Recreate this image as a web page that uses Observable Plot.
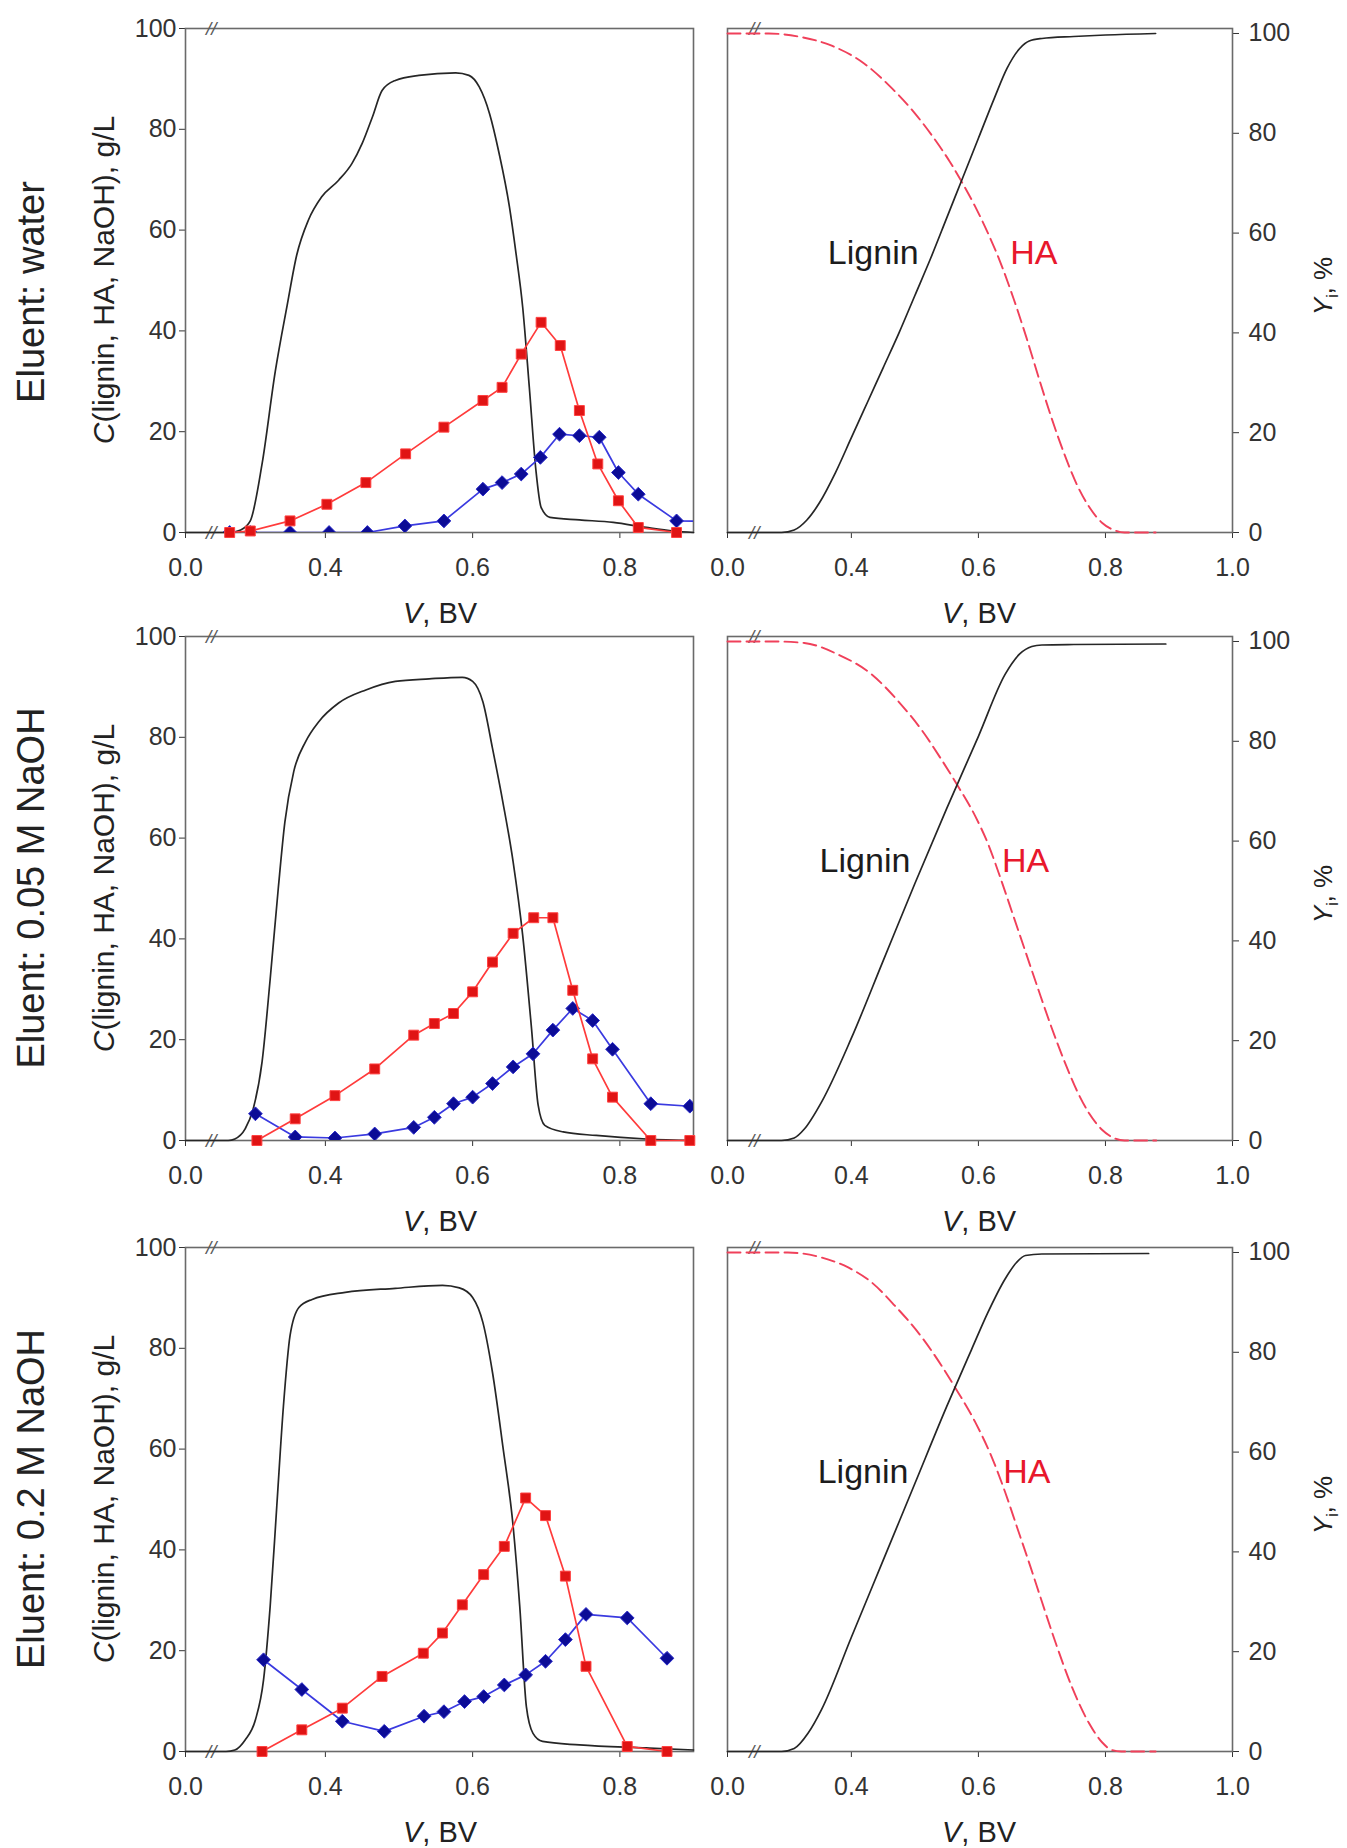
<!DOCTYPE html>
<html>
<head>
<meta charset="utf-8">
<script src="https://cdn.jsdelivr.net/npm/d3@7"></script>
<script src="https://cdn.jsdelivr.net/npm/@observablehq/plot@0.6"></script>
<style>
  body { margin: 0; background: #fff; }
  #fig { position: relative; width: 1347px; height: 1848px; background: #fff;
         font-family: 'Liberation Sans', Arial, Helvetica, sans-serif; color: #222; }
  #fig svg { position: absolute; overflow: visible; }
  .lab { position: absolute; white-space: nowrap; line-height: 1; transform: translate(-50%, -50%); }
  .rot { transform: translate(-50%, -50%) rotate(-90deg); }
</style>
</head>
<body>
<div id="fig"></div>
<script>
// ---------- Eluent conditions ----------
const eluents = ["Eluent: water", "Eluent: 0.05 M NaOH", "Eluent: 0.2 M NaOH"];

// ---------- Outlet concentrations, g/L (left column) ----------
// water
const ligninV_water = [0.21, 0.27, 0.285, 0.298, 0.314, 0.332, 0.348, 0.361, 0.377, 0.395, 0.418, 0.436, 0.45, 0.464, 0.477, 0.495, 0.527, 0.577, 0.595, 0.609, 0.623, 0.636, 0.65, 0.659, 0.668, 0.677, 0.686, 0.693, 0.705, 0.745, 0.791, 0.836, 0.873, 0.9];
const ligninC_water = [0, 0, 0.5, 2.3, 13.6, 32, 45, 55, 62, 66.6, 69.9, 73.2, 77.2, 82.5, 87.7, 89.7, 90.7, 91.2, 90.7, 88.4, 83.1, 75.2, 64.6, 55.3, 44.7, 28.8, 12.3, 5, 3, 2.5, 2, 1, 0.3, 0];
const haV_water = [0.27, 0.298, 0.352, 0.402, 0.455, 0.509, 0.561, 0.614, 0.64, 0.666, 0.693, 0.719, 0.745, 0.77, 0.798, 0.825, 0.877];
const haC_water = [0, 0.3, 2.3, 5.6, 9.9, 15.6, 20.9, 26.2, 28.8, 35.4, 41.7, 37.1, 24.2, 13.6, 6.3, 1.0, 0];
const naohV_water = [0.27, 0.298, 0.352, 0.405, 0.457, 0.508, 0.561, 0.614, 0.64, 0.666, 0.692, 0.718, 0.745, 0.772, 0.798, 0.825, 0.877, 0.93];
const naohC_water = [0, 0, 0, 0, 0, 1.3, 2.3, 8.6, 9.9, 11.6, 14.9, 19.5, 19.2, 18.9, 11.9, 7.6, 2.3, 2.2];

// 0.05 M NaOH
const ligninV_n005 = [0.21, 0.268, 0.277, 0.291, 0.302, 0.314, 0.325, 0.336, 0.345, 0.357, 0.373, 0.391, 0.418, 0.455, 0.495, 0.541, 0.586, 0.6, 0.614, 0.627, 0.641, 0.655, 0.668, 0.68, 0.689, 0.698, 0.723, 0.768, 0.836, 0.9];
const ligninC_n005 = [0, 0, 0.3, 2.3, 6.3, 15.6, 32, 50, 63.2, 73.2, 79.1, 83.1, 86.8, 89.4, 91.1, 91.6, 91.9, 91.1, 87, 77.8, 67.2, 55.3, 40.7, 22.2, 7, 3, 1.7, 1, 0.3, 0];
const haV_n005 = [0.307, 0.359, 0.413, 0.467, 0.52, 0.548, 0.574, 0.6, 0.627, 0.655, 0.683, 0.709, 0.736, 0.763, 0.79, 0.842, 0.895];
const haC_n005 = [0, 4.3, 8.9, 14.2, 20.9, 23.2, 25.2, 29.5, 35.4, 41.1, 44.2, 44.2, 29.8, 16.2, 8.6, 0, 0];
const naohV_n005 = [0.305, 0.359, 0.413, 0.467, 0.52, 0.548, 0.574, 0.6, 0.627, 0.655, 0.682, 0.709, 0.736, 0.763, 0.79, 0.842, 0.895];
const naohC_n005 = [5.3, 0.7, 0.5, 1.3, 2.6, 4.6, 7.3, 8.6, 11.3, 14.6, 17.2, 21.9, 26.2, 23.8, 18.1, 7.3, 6.8];

// 0.2 M NaOH
const ligninV_n02 = [0.21, 0.265, 0.277, 0.291, 0.305, 0.316, 0.325, 0.334, 0.343, 0.352, 0.364, 0.382, 0.427, 0.495, 0.559, 0.582, 0.6, 0.614, 0.627, 0.641, 0.655, 0.664, 0.673, 0.682, 0.695, 0.745, 0.836, 0.9];
const ligninC_n02 = [0, 0, 0.3, 2.3, 6.3, 14.2, 28.8, 48.7, 68.5, 82.5, 88.1, 89.7, 91.1, 91.9, 92.5, 92, 90.1, 85.1, 75.2, 60.6, 44.7, 28.8, 8.9, 3.6, 2, 1.3, 0.7, 0.3];
const haV_n02 = [0.314, 0.368, 0.423, 0.477, 0.533, 0.559, 0.586, 0.615, 0.643, 0.672, 0.699, 0.726, 0.754, 0.81, 0.864];
const haC_n02 = [0, 4.3, 8.6, 14.9, 19.5, 23.5, 29.1, 35.1, 40.7, 50.3, 46.8, 34.8, 16.9, 1, 0];
const naohV_n02 = [0.316, 0.368, 0.423, 0.48, 0.534, 0.561, 0.589, 0.615, 0.643, 0.672, 0.699, 0.726, 0.754, 0.81, 0.864];
const naohC_n02 = [18.2, 12.3, 6, 4, 7, 7.9, 9.9, 10.9, 13.2, 15.2, 17.9, 22.2, 27.2, 26.5, 18.5];

// ---------- Cumulative yields, % (right column) ----------
const yLigV_water = [0.205, 0.29, 0.31, 0.33, 0.35, 0.375, 0.40, 0.425, 0.45, 0.475, 0.50, 0.525, 0.55, 0.575, 0.60, 0.625, 0.645, 0.665, 0.68, 0.70, 0.75, 0.80, 0.879];
const yLig_water  = [0, 0, 0.5, 2.5, 6, 12, 19, 26, 33, 40, 47.5, 55, 63, 71, 79, 87, 93, 97, 98.5, 99, 99.4, 99.7, 100];
const yHaV_water = [0.205, 0.27, 0.32, 0.37, 0.42, 0.46, 0.50, 0.53, 0.555, 0.575, 0.595, 0.615, 0.635, 0.655, 0.675, 0.695, 0.715, 0.735, 0.755, 0.775, 0.795, 0.815, 0.83, 0.879];
const yHa_water  = [100, 100, 99.3, 97.5, 94, 89.5, 84, 79, 74.3, 70, 65.3, 60, 54, 47, 39.3, 31, 23, 15.8, 9.6, 5, 1.9, 0.4, 0, 0];

const yLigV_n005 = [0.205, 0.29, 0.31, 0.326, 0.353, 0.40, 0.45, 0.50, 0.55, 0.60, 0.642, 0.665, 0.684, 0.70, 0.75, 0.895];
const yLig_n005  = [0, 0, 0.5, 2.3, 7.7, 20.5, 36, 51.5, 66.5, 81, 93.4, 97.5, 99, 99.3, 99.4, 99.5];
const yHaV_n005 = [0.205, 0.28, 0.326, 0.379, 0.432, 0.474, 0.511, 0.542, 0.566, 0.595, 0.615, 0.635, 0.655, 0.675, 0.695, 0.715, 0.735, 0.755, 0.775, 0.795, 0.815, 0.83, 0.88];
const yHa_n005  = [100, 100, 99.7, 97.4, 93.4, 88, 82.2, 76.3, 71.4, 65, 59.5, 52.5, 45, 37.5, 30, 22.7, 16, 10, 5.3, 2.1, 0.4, 0, 0];

const yLigV_n02 = [0.205, 0.29, 0.31, 0.332, 0.353, 0.40, 0.45, 0.50, 0.55, 0.589, 0.615, 0.642, 0.66, 0.674, 0.70, 0.868];
const yLig_n02  = [0, 0, 0.6, 3.7, 8.4, 22.9, 38.3, 53.7, 69.1, 80.5, 88, 94.7, 98, 99.4, 99.7, 99.8];
const yHaV_n02 = [0.205, 0.3, 0.353, 0.395, 0.432, 0.468, 0.511, 0.542, 0.563, 0.595, 0.621, 0.642, 0.662, 0.682, 0.70, 0.721, 0.747, 0.774, 0.795, 0.81, 0.825, 0.879];
const yHa_n02  = [100, 100, 99, 97, 94, 89.4, 83, 77.3, 73, 66, 59, 52, 44.5, 37, 30, 22, 13, 5.7, 1.8, 0.3, 0, 0];

// ---------- Axes (broken V axis: first tick is drawn as 0.0) ----------
const xDomainConc = [0.21, 0.9];
const xTicksConc = [0.21, 0.4, 0.6, 0.8];
const xTickLabelsConc = ["0.0", "0.4", "0.6", "0.8"];
const xDomainYield = [0.205, 1.0];
const xTicksYield = [0.205, 0.4, 0.6, 0.8, 1.0];
const xTickLabelsYield = ["0.0", "0.4", "0.6", "0.8", "1.0"];
const yDomainConc = [0, 100];
const yDomainYield = [0, 101];
const yTicks = [0, 20, 40, 60, 80, 100];
const breakConc = 0.245, breakYield = 0.247;

// in-panel curve names for the yield plots
const curveNames = ["Lignin", "HA"];
const ligninNameV = [0.363, 0.35, 0.347];
const haNameV = [0.65, 0.637, 0.639];
const curveNameY = 56;

// ---------- layout & style ----------
const rowTop = [28, 636, 1247];
const panelH = 504;
const padTop = 20, padBottom = 60;
const FONT = "'Liberation Sans', Arial, Helvetica, sans-serif";
const frameColor = "#6a6a6a";
const ligninColor = "#262626";
const haLine = "#ff3b3b", haFill = "#e01414", haEdge = "#ff4040";
const naohLine = "#3a3ae0", naohFill = "#0c0c96", naohEdge = "#2a2ac8";
const haDash = "#f0405a";

const pts = (vs, cs) => vs.map((v, i) => ({v, c: cs[i]}));

const rows = [
  {lig: pts(ligninV_water, ligninC_water), ha: pts(haV_water, haC_water), naoh: pts(naohV_water, naohC_water),
   yl: pts(yLigV_water, yLig_water), yh: pts(yHaV_water, yHa_water)},
  {lig: pts(ligninV_n005, ligninC_n005), ha: pts(haV_n005, haC_n005), naoh: pts(naohV_n005, naohC_n005),
   yl: pts(yLigV_n005, yLig_n005), yh: pts(yHaV_n005, yHa_n005)},
  {lig: pts(ligninV_n02, ligninC_n02), ha: pts(haV_n02, haC_n02), naoh: pts(naohV_n02, naohC_n02),
   yl: pts(yLigV_n02, yLig_n02), yh: pts(yHaV_n02, yHa_n02)}
];

const fig = document.getElementById("fig");
const baseStyle = {fontFamily: FONT, fontSize: "25px", color: "#333", background: "transparent", overflow: "visible"};

// axis-break symbol on the top and bottom frame lines
function breakMarks(xb, dom) {
  return Plot.text([{v: xb, c: dom[0]}, {v: xb, c: dom[1]}],
    {x: "v", y: "c", text: () => "//", fontSize: 19, fontStyle: "italic", fill: "#5a5a5a"});
}

function concPanel(r) {
  return Plot.plot({
    width: 710, height: panelH + padTop + padBottom,
    marginLeft: 185, marginRight: 17, marginTop: padTop, marginBottom: padBottom,
    style: baseStyle,
    x: {domain: xDomainConc, ticks: xTicksConc, tickFormat: d => xTickLabelsConc[xTicksConc.indexOf(d)],
        tickSize: 6, tickPadding: 20, label: null},
    y: {domain: yDomainConc, ticks: yTicks, tickSize: 6, tickPadding: 3, label: null},
    marks: [
      Plot.frame({stroke: frameColor, strokeWidth: 1.6}),
      breakMarks(breakConc, yDomainConc),
      Plot.line(r.lig, {x: "v", y: "c", curve: "monotone-x", stroke: ligninColor, strokeWidth: 1.7}),
      Plot.line(r.naoh, {x: "v", y: "c", stroke: naohLine, strokeWidth: 1.7, clip: true}),
      Plot.dot(r.naoh, {x: "v", y: "c", symbol: "diamond2", r: 6.2, fill: naohFill, stroke: naohEdge, strokeWidth: 1, clip: true}),
      Plot.line(r.ha, {x: "v", y: "c", stroke: haLine, strokeWidth: 1.7}),
      Plot.dot(r.ha, {x: "v", y: "c", symbol: "square", r: 5.6, fill: haFill, stroke: haEdge, strokeWidth: 1})
    ]
  });
}

function yieldPanel(r, k) {
  return Plot.plot({
    width: 647, height: panelH + padTop + padBottom,
    marginLeft: 27, marginRight: 115, marginTop: padTop, marginBottom: padBottom,
    style: baseStyle,
    x: {domain: xDomainYield, ticks: xTicksYield, tickFormat: d => xTickLabelsYield[xTicksYield.indexOf(d)],
        tickSize: 6, tickPadding: 20, label: null},
    y: {domain: yDomainYield, ticks: yTicks, axis: "right", tickSize: 6, tickPadding: 10, label: null},
    marks: [
      Plot.frame({stroke: frameColor, strokeWidth: 1.6}),
      breakMarks(breakYield, [0, yDomainYield[1]]),
      Plot.line(r.yh, {x: "v", y: "c", curve: "monotone-x", stroke: haDash, strokeWidth: 1.9, strokeDasharray: "13,6"}),
      Plot.line(r.yl, {x: "v", y: "c", curve: "monotone-x", stroke: ligninColor, strokeWidth: 1.7}),
      Plot.text([{v: ligninNameV[k], c: curveNameY, t: curveNames[0]}],
        {x: "v", y: "c", text: "t", textAnchor: "start", fontSize: 34, fill: "#1c1c1c"}),
      Plot.text([{v: haNameV[k], c: curveNameY, t: curveNames[1]}],
        {x: "v", y: "c", text: "t", textAnchor: "start", fontSize: 34, fill: "#e8182c"})
    ]
  });
}

function addLabel(html, cx, cy, size, rotate) {
  const d = document.createElement("div");
  d.className = rotate ? "lab rot" : "lab";
  d.style.left = cx + "px";
  d.style.top = cy + "px";
  d.style.fontSize = size + "px";
  d.innerHTML = html;
  fig.appendChild(d);
}

rows.forEach((r, k) => {
  const top = rowTop[k];
  const left = concPanel(r);
  left.style.left = "0px";
  left.style.top = (top - padTop) + "px";
  fig.appendChild(left);

  const right = yieldPanel(r, k);
  right.style.left = "700px";
  right.style.top = (top - padTop) + "px";
  fig.appendChild(right);

  const mid = top + panelH / 2;
  addLabel(eluents[k], 31, mid + (k === 0 ? 12 : 0), 38, true);
  addLabel("<i>C</i>(lignin, HA, NaOH), g/L", 104, mid, 30, true);
  addLabel("<i>Y</i><sub style='font-size:0.6em'>i</sub>, %", 1325, mid + 6, 26, true);
  addLabel("<i>V</i>, BV", 440, top + panelH + 81, 29, false);
  addLabel("<i>V</i>, BV", 979, top + panelH + 81, 29, false);
});
</script>
</body>
</html>
